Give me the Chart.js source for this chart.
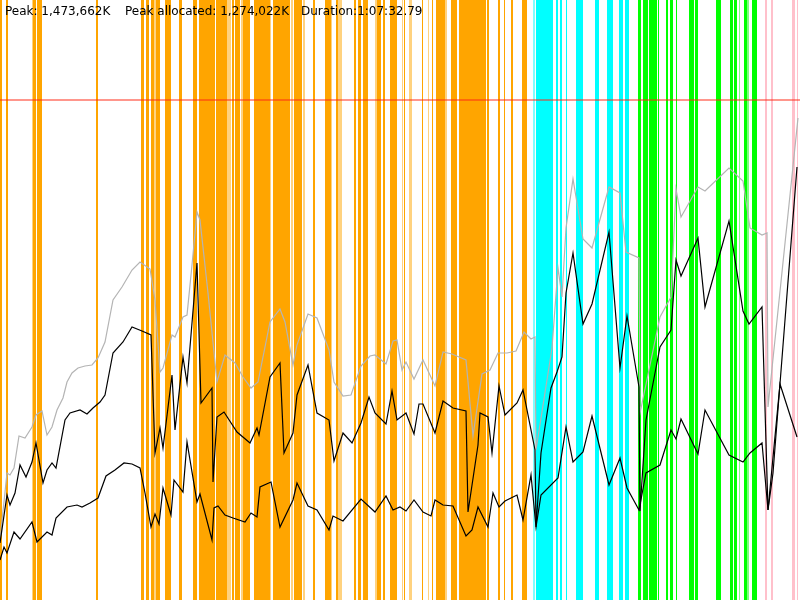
<!DOCTYPE html>
<html>
<head>
<meta charset="utf-8">
<script src="https://cdn.jsdelivr.net/npm/chart.js@4"></script>
<style>
  html, body { margin: 0; padding: 0; background: #fff; }
  #wrap { position: relative; width: 800px; height: 600px; }
  #info { position: absolute; top: 4px; left: 0; font: 12px "DejaVu Sans", sans-serif; color: #000; white-space: pre; }
  #info span { position: absolute; top: 0; }
</style>
</head>
<body>
<div id="wrap">
  <canvas id="chart"></canvas>
  <div id="info"><span style="left:5px">Peak: 1,473,662K</span><span style="left:125px">Peak allocated: 1,274,022K</span><span style="left:301px">Duration:1:07:32.79</span></div>
</div>
<script>
// time axis runs 0..800 slots over the whole run, memory in MB
const TIME_END = 800;
const MEM_TOP = 1800;
const limitMB = 1500;

// gray: heap size
const heapX = [0, 7, 10, 14, 19, 25, 32, 36, 42, 47, 52, 57, 63, 67, 72, 78, 85, 92, 98, 105, 113, 122, 132, 140, 150, 155, 160, 163, 172, 175, 183, 187, 192, 197, 200, 208, 217, 225, 235, 243, 251, 258, 270, 280, 285, 293, 297, 308, 317, 329, 334, 343, 351, 361, 370, 375, 386, 393, 397, 402, 406, 414, 423, 435, 443, 452, 466, 473, 482, 490, 498, 507, 516, 524, 531, 535, 536, 552, 558, 562, 566, 573, 583, 592, 609, 620, 626, 639, 640, 660, 671, 676, 681, 698, 705, 729, 743, 750, 762, 767, 768, 798];
const heapMB = [180, 381, 375, 396, 492, 486, 519, 555, 567, 495, 519, 570, 606, 654, 681, 696, 702, 705, 726, 774, 900, 939, 990, 1014, 993, 900, 684, 696, 795, 789, 849, 855, 1005, 1164, 1140, 921, 654, 735, 711, 669, 636, 654, 834, 873, 834, 705, 765, 858, 846, 750, 654, 612, 615, 702, 732, 735, 708, 777, 780, 690, 714, 663, 720, 642, 744, 738, 720, 492, 678, 690, 741, 741, 747, 804, 783, 789, 450, 756, 996, 909, 1116, 1263, 1083, 1056, 1239, 1221, 1044, 1026, 561, 849, 909, 1233, 1149, 1239, 1227, 1296, 1257, 1116, 1095, 1101, 579, 1446];

// black upper: allocated
const usedX = [0, 7, 10, 15, 20, 26, 32, 36, 43, 47, 52, 56, 65, 70, 80, 87, 93, 100, 105, 113, 123, 132, 142, 151, 155, 160, 163, 172, 175, 183, 187, 197, 201, 212, 213, 217, 224, 237, 250, 257, 259, 270, 280, 284, 293, 297, 308, 317, 329, 334, 343, 352, 361, 369, 375, 386, 392, 397, 406, 414, 419, 423, 435, 443, 453, 466, 468, 478, 480, 488, 492, 499, 505, 517, 523, 535, 536, 541, 551, 557, 562, 566, 573, 583, 592, 609, 620, 627, 639, 640, 646, 660, 671, 676, 681, 698, 705, 729, 743, 749, 762, 768, 773, 797];
const usedMB = [171, 315, 285, 321, 405, 369, 414, 471, 351, 390, 411, 396, 540, 561, 570, 558, 576, 594, 615, 741, 774, 819, 807, 795, 441, 516, 456, 675, 510, 729, 651, 1011, 591, 636, 354, 549, 564, 504, 471, 516, 495, 669, 711, 441, 501, 615, 705, 561, 540, 417, 501, 471, 531, 609, 561, 528, 627, 540, 561, 498, 588, 588, 501, 597, 576, 567, 264, 465, 561, 549, 441, 642, 555, 591, 630, 450, 219, 441, 636, 684, 729, 921, 1041, 828, 888, 1104, 696, 852, 639, 267, 540, 759, 810, 1020, 972, 1086, 879, 1137, 867, 828, 879, 270, 381, 1299];

// black lower: live after collection
const liveX = [0, 4, 7, 14, 20, 32, 37, 47, 52, 56, 67, 77, 82, 90, 98, 106, 115, 124, 132, 140, 145, 151, 155, 159, 163, 171, 174, 183, 187, 197, 200, 212, 214, 218, 225, 233, 245, 251, 257, 260, 271, 280, 293, 297, 308, 317, 329, 333, 343, 361, 375, 386, 393, 400, 406, 414, 423, 431, 435, 443, 453, 466, 472, 478, 488, 493, 499, 505, 517, 523, 531, 536, 541, 558, 566, 573, 583, 592, 609, 620, 627, 639, 646, 660, 671, 676, 681, 698, 705, 729, 743, 750, 762, 768, 780, 797];
const liveMB = [120, 159, 141, 204, 183, 234, 174, 204, 195, 246, 279, 285, 279, 291, 306, 372, 390, 411, 408, 396, 321, 219, 258, 228, 336, 255, 360, 324, 474, 294, 318, 180, 276, 282, 255, 246, 234, 261, 249, 339, 354, 219, 300, 351, 282, 270, 210, 252, 237, 303, 264, 312, 270, 279, 267, 300, 264, 252, 300, 285, 282, 192, 210, 279, 219, 321, 279, 297, 315, 240, 375, 219, 315, 366, 519, 414, 444, 552, 345, 426, 336, 270, 381, 405, 510, 483, 543, 438, 570, 435, 414, 441, 471, 270, 648, 489];

// event bands [start, end] on the same time axis
const orangeBands = [[0, 2], [6, 8], [33, 36], [37, 42], [96, 98], [141, 144], [146, 149], [151, 154], [156, 159], [159, 160], [165, 171], [179, 182], [193, 197],
  [199, 215], [216, 227], [232, 234], [235, 240], [243, 250], [254, 270], [273, 290], [294, 302], [313, 315], [325, 331], [336, 338],
  [354, 356], [358, 361], [363, 368], [377, 381], [383, 385], [390, 397], [404, 405], [422, 423], [432, 433], [436, 445],
  [451, 457], [459, 486], [487, 489], [498, 500], [504, 505], [511, 513], [522, 527]];
const paleOrangeBands = [[32, 33], [154, 156], [227, 231], [241, 243], [270, 271], [291, 293], [303, 305], [331, 332], [338, 342], [375, 377], [402, 403], [409, 412], [428, 429], [445, 447]];
const cyanBands = [[536, 553], [556, 558], [560, 562], [566, 567], [576, 583], [595, 599], [607, 613], [619, 623], [625, 629]];
const paleCyanBands = [[533, 535]];
const greenBands = [[638, 641], [643, 648], [649, 653], [653, 657], [658, 659], [666, 668], [670, 673], [676, 677], [689, 694], [695, 698], [716, 721],
  [730, 733], [734, 737], [744, 747], [752, 757]];
const paleGreenBands = [[739, 740], [747, 749]];
const pinkBands = [[765, 767], [771, 773], [792, 795], [797, 798]];

function series(xs, ys) {
  return xs.map((x, i) => ({ x: x, y: ys[i] }));
}

function bandSets(bands, color) {
  return bands.map(b => ({
    data: [{ x: b[0], y: MEM_TOP }, { x: b[1], y: MEM_TOP }],
    borderWidth: 0,
    backgroundColor: color,
    fill: "origin",
    pointRadius: 0,
    order: 3
  }));
}

const datasets = [
  { data: series(usedX, usedMB), borderColor: "#000", borderWidth: 1.2, pointRadius: 0, fill: false, order: 0 },
  { data: series(liveX, liveMB), borderColor: "#000", borderWidth: 1.2, pointRadius: 0, fill: false, order: 0 },
  { data: series(heapX, heapMB), borderColor: "#b4b4b4", borderWidth: 1.2, pointRadius: 0, fill: false, order: 1 },
  { data: [{ x: 0, y: limitMB }, { x: TIME_END, y: limitMB }], borderColor: "rgba(255,40,20,0.65)", borderWidth: 1.5, pointRadius: 0, fill: false, order: 2 }
].concat(
  bandSets(orangeBands, "#ffa500"),
  bandSets(paleOrangeBands, "rgba(255,165,0,0.5)"),
  bandSets(cyanBands, "#00ffff"),
  bandSets(paleCyanBands, "rgba(0,255,255,0.5)"),
  bandSets(greenBands, "#00ff00"),
  bandSets(paleGreenBands, "rgba(0,255,0,0.5)"),
  bandSets(pinkBands, "#ffc0cb")
);

const canvas = document.getElementById("chart");
canvas.width = 800;
canvas.height = 600;

new Chart(canvas.getContext("2d"), {
  type: "line",
  data: { datasets: datasets },
  options: {
    responsive: false,
    animation: false,
    events: [],
    layout: { padding: 0 },
    elements: { line: { tension: 0 } },
    plugins: { legend: { display: false }, tooltip: { enabled: false }, title: { display: false } },
    scales: {
      x: { type: "linear", min: 0, max: TIME_END, display: false },
      y: { type: "linear", min: 0, max: MEM_TOP, display: false }
    }
  }
});
</script>
</body>
</html>
